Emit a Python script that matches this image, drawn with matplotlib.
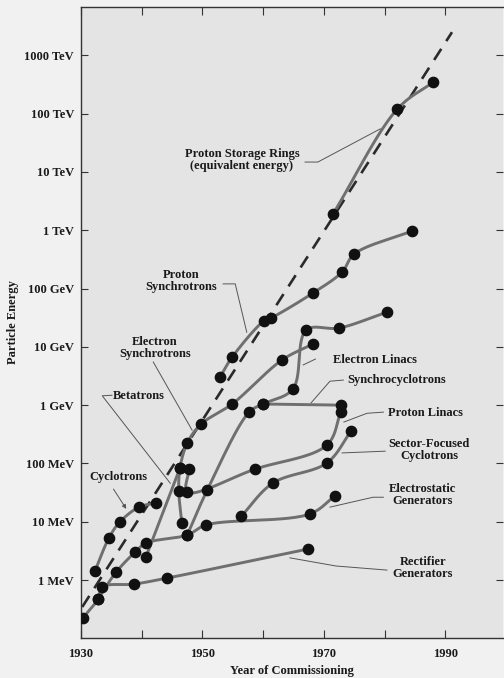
import numpy as np
import matplotlib
matplotlib.use("Agg")
import matplotlib.pyplot as plt

# ---------------- data (year of commissioning, energy in MeV) ----------------
cyclotron_years = [1932.3, 1934.6, 1936.4, 1939.6, 1942.4]
cyclotron_mev = [1.43, 5.25, 9.9, 17.9, 20.9]

rectifier_years = [1930.3, 1932.8, 1933.5, 1938.7, 1944.2, 1967.4]
rectifier_mev = [0.223, 0.472, 0.76, 0.85, 1.08, 3.4]

electrostatic_years = [1932.8, 1935.8, 1938.9, 1940.7, 1947.5, 1950.6, 1967.7, 1971.8]
electrostatic_mev = [0.472, 1.37, 3.0, 4.3, 5.9, 8.8, 13.6, 27.6]

betatron_years = [1940.7, 1946.3]
betatron_mev = [2.5, 83]

e_synch_years = [1946.6, 1946.1, 1946.3, 1947.5, 1949.8, 1954.9, 1963.1, 1968.2]
e_synch_mev = [9.5, 33.6, 83, 224, 474, 1045, 5940, 11170]

p_linac_years = [1947.8, 1947.5, 1958.7, 1970.5, 1972.8]
p_linac_mev = [80, 32.3, 80, 207, 762]

e_linac_years = [1947.5, 1950.8, 1957.7, 1960.0, 1964.9, 1967.1, 1972.5, 1980.4]
e_linac_mev = [5.9, 35, 762, 1045, 1890, 19400, 21000, 39500]

synchrocyc_years = [1960.0, 1972.8]
synchrocyc_mev = [1045, 1000]

sector_years = [1956.4, 1961.6, 1970.5, 1974.5]
sector_mev = [12.5, 46, 102, 360]

p_synch_years = [1952.9, 1954.9, 1960.1, 1961.3, 1968.2, 1973.0, 1975.0, 1984.5]
p_synch_mev = [3030, 6680, 27700, 31200, 83700, 192000, 391000, 968000]

storage_years = [1971.5, 1982.1, 1988.0]
storage_mev = [1.9e6, 1.2e8, 3.48e8]

trend_years = [1930.2, 1991.1]
trend_mev = [0.344, 2.5e9]

ytick_mev = [1, 10, 100, 1e3, 1e4, 1e5, 1e6, 1e7, 1e8, 1e9]
ytick_labels = ["1 MeV", "10 MeV", "100 MeV", "1 GeV", "10 GeV", "100 GeV",
                "1 TeV", "10 TeV", "100 TeV", "1000 TeV"]
xtick_major = [1930, 1950, 1970, 1990]
xtick_minor = [1940, 1960, 1980]

series = [
    (cyclotron_years, cyclotron_mev),
    (rectifier_years, rectifier_mev),
    (electrostatic_years, electrostatic_mev),
    (betatron_years, betatron_mev),
    (e_synch_years, e_synch_mev),
    (p_linac_years, p_linac_mev),
    (e_linac_years, e_linac_mev),
    (synchrocyc_years, synchrocyc_mev),
    (sector_years, sector_mev),
    (p_synch_years, p_synch_mev),
    (storage_years, storage_mev),
]

# ---------------- helpers ----------------
SX, SY = 6.07, 58.3  # approx pixel scale per year / per decade


def smooth(xs, ys, n=30):
    """Centripetal Catmull-Rom through the points, in log-energy space."""
    px = np.asarray(xs, float) * SX
    py = np.log10(np.asarray(ys, float)) * SY
    P = np.column_stack([px, py])
    if len(P) < 3:
        return P[:, 0] / SX, 10 ** (P[:, 1] / SY)
    P = np.vstack([2 * P[0] - P[1], P, 2 * P[-1] - P[-2]])
    out = []
    for i in range(1, len(P) - 2):
        p0, p1, p2, p3 = P[i - 1], P[i], P[i + 1], P[i + 2]

        def tj(ti, a, b):
            return ti + max(np.linalg.norm(b - a), 1e-6) ** 0.5
        t0 = 0.0
        t1 = tj(t0, p0, p1)
        t2 = tj(t1, p1, p2)
        t3 = tj(t2, p2, p3)
        t = np.linspace(t1, t2, n)[:, None]
        A1 = (t1 - t) / (t1 - t0) * p0 + (t - t0) / (t1 - t0) * p1
        A2 = (t2 - t) / (t2 - t1) * p1 + (t - t1) / (t2 - t1) * p2
        A3 = (t3 - t) / (t3 - t2) * p2 + (t - t2) / (t3 - t2) * p3
        B1 = (t2 - t) / (t2 - t0) * A1 + (t - t0) / (t2 - t0) * A2
        B2 = (t3 - t) / (t3 - t1) * A2 + (t - t1) / (t3 - t1) * A3
        C = (t2 - t) / (t2 - t1) * B1 + (t - t1) / (t2 - t1) * B2
        out.append(C if i == 1 else C[1:])
    C = np.vstack(out)
    return C[:, 0] / SX, 10 ** (C[:, 1] / SY)


# ---------------- figure ----------------
FONT = "Liberation Serif"
plt.rcParams["font.family"] = [FONT, "DejaVu Serif"]

fig = plt.figure(figsize=(5.04, 6.78), dpi=100, facecolor="#f1f1f1")
ax = fig.add_axes([81 / 504, 1 - 638 / 678, (503 - 81) / 504, (638 - 7) / 678])
ax.set_facecolor("#e4e4e4")
ax.set_yscale("log")
ax.set_xlim(1930, 1999.5)
ax.set_ylim(10 ** -0.995, 10 ** 9.83)

# trend line
ax.plot(trend_years, trend_mev, color="#2a2a2a", lw=1.9, dashes=(5, 3.5), zorder=2)

line_col = "#6f6f6f"
for xs, ys in series:
    sx, sy = smooth(xs, ys)
    ax.plot(sx, sy, color=line_col, lw=2.1, solid_capstyle="round", zorder=3)
for xs, ys in series:
    ax.plot(xs, ys, "o", color="#111111", ms=7.4, mec="#111111", zorder=4)

# labels and leader lines
FS = 9.0
lab_kw = dict(fontsize=FS, fontweight="bold", color="#1a1a1a", family=[FONT, "DejaVu Serif"])
lead_kw = dict(color="#555555", lw=0.7, zorder=2.5)


def lead(yrs, loge):
    ax.plot(yrs, [10 ** v for v in loge], **lead_kw)


ax.text(1956.5, 10 ** 7.20, "Proton Storage Rings\n(equivalent energy)", ha="center", va="center",
        linespacing=1.0, **lab_kw)
lead([1966.9, 1969.0, 1979.3], [7.17, 7.17, 7.74])

ax.text(1946.5, 10 ** 5.13, "Proton\nSynchrotrons", ha="center", va="center", linespacing=1.0, **lab_kw)
lead([1953.4, 1955.4, 1957.3], [5.08, 5.08, 4.25])

ax.text(1942.2, 10 ** 3.98, "Electron\nSynchrotrons", ha="center", va="center", linespacing=1.0, **lab_kw)
lead([1941.9, 1948.3], [3.74, 2.57])

ax.text(1935.3, 10 ** 3.16, "Betatrons", ha="left", va="center", **lab_kw)
lead([1935.1, 1933.5, 1944.7], [3.17, 3.16, 1.66])

ax.text(1936.1, 10 ** 1.77, "Cyclotrons", ha="center", va="center", **lab_kw)
ax.annotate("", xy=(1937.7, 10 ** 1.18), xytext=(1935.1, 10 ** 1.60),
            arrowprops=dict(arrowstyle="-|>", color="#555555", lw=0.7, mutation_scale=6))

ax.text(1971.5, 10 ** 3.77, "Electron Linacs", ha="left", va="center", **lab_kw)
lead([1968.6, 1966.6], [3.79, 3.69])

ax.text(1973.8, 10 ** 3.43, "Synchrocyclotrons", ha="left", va="center", **lab_kw)
lead([1973.2, 1971.0, 1967.9], [3.43, 3.41, 3.04])

ax.text(1980.6, 10 ** 2.86, "Proton Linacs", ha="left", va="center", **lab_kw)
lead([1979.8, 1977.1, 1973.3], [2.88, 2.86, 2.71])

ax.text(1987.3, 10 ** 2.23, "Sector-Focused\nCyclotrons", ha="center", va="center", linespacing=1.0, **lab_kw)
lead([1980.1, 1973.0], [2.21, 2.18])

ax.text(1986.3, 10 ** 1.46, "Electrostatic\nGenerators", ha="center", va="center", linespacing=1.0, **lab_kw)
lead([1979.8, 1978.1, 1971.0], [1.42, 1.42, 1.25])

ax.text(1986.3, 10 ** 0.21, "Rectifier\nGenerators", ha="center", va="center", linespacing=1.0, **lab_kw)
lead([1980.4, 1972.0, 1964.4], [0.17, 0.24, 0.38])

# axes cosmetics
ax.set_yticks(ytick_mev)
ax.set_yticklabels(ytick_labels)
ax.yaxis.set_minor_locator(matplotlib.ticker.NullLocator())
ax.set_xticks(xtick_major)
ax.set_xticks(xtick_minor, minor=True)
ax.tick_params(axis="both", which="both", direction="in", colors="#333333",
               labelsize=FS, top=True, right=True, length=6, width=0.8, labelcolor="#1a1a1a")
ax.tick_params(axis="y", which="major", length=5, pad=5)
ax.tick_params(axis="x", which="major", pad=7)
for lbl in ax.get_xticklabels() + ax.get_yticklabels():
    lbl.set_fontweight("bold")
for s in ["left", "bottom", "top"]:
    ax.spines[s].set_color("#333333")
    ax.spines[s].set_linewidth(1.0)
ax.spines["right"].set_visible(False)

ax.set_xlabel("Year of Commissioning", fontsize=FS, fontweight="bold", color="#1a1a1a", labelpad=4)
ax.set_ylabel("Particle Energy", fontsize=FS, fontweight="bold", color="#1a1a1a", labelpad=4)

fig.savefig("out.png", dpi=100, facecolor=fig.get_facecolor())
